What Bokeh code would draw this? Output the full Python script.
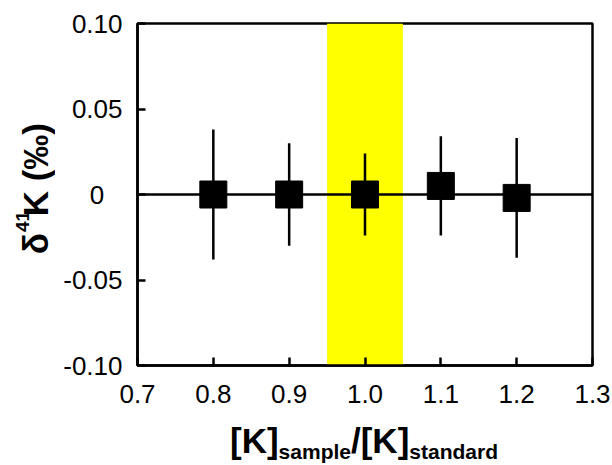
import math
from bokeh.plotting import figure
from bokeh.layouts import column, row
from bokeh.models import Range1d, FixedTicker, Span, BoxAnnotation, Label
from bokeh.embed import file_html
from bokeh.resources import INLINE

# data
x_vals = [0.8, 0.9, 1.0, 1.1, 1.2]
y_vals = [0.0, 0.0, 0.0, 0.005, -0.002]
y_err = [0.038, 0.030, 0.024, 0.029, 0.035]
band = [0.95, 1.05]
x_ticks = [0.7, 0.8, 0.9, 1.0, 1.1, 1.2, 1.3]
x_tick_labels = ["0.7", "0.8", "0.9", "1.0", "1.1", "1.2", "1.3"]
y_ticks = [-0.1, -0.05, 0, 0.05, 0.1]
y_tick_labels = ["-0.10", "-0.05", "0\u2002\u2009", "0.05", "0.10"]

FONT = "Liberation Sans"
TOTAL_W, TOTAL_H = 612, 465
YLAB_W = 55
XLAB_H = 50
MAIN_W = TOTAL_W - YLAB_W
MAIN_H = TOTAL_H - XLAB_H
DESC = 0.212  # font descent as fraction of size
ROT_SHIFT = 16  # correction along the text direction for rotated labels

p = figure(width=MAIN_W, height=MAIN_H, x_range=Range1d(0.7, 1.3), y_range=Range1d(-0.1, 0.1),
           output_backend="svg", toolbar_location=None, title=None,
           min_border_left=82, min_border_right=20, min_border_top=23, min_border_bottom=50)
p.xgrid.visible = False
p.ygrid.visible = False
p.outline_line_color = "black"
p.outline_line_width = 2.5
p.outline_line_alpha = 1
p.background_fill_color = "white"
p.border_fill_color = "white"

for ax in (p.xaxis[0], p.yaxis[0]):
    ax.axis_line_width = 2.5
    ax.axis_line_color = "black"
    ax.major_tick_line_width = 2.5
    ax.major_tick_line_color = "black"
    ax.major_tick_in = 8
    ax.major_tick_out = 0
    ax.minor_tick_line_color = None
    ax.major_label_text_font = FONT
    ax.major_label_text_font_size = "26px"
    ax.major_label_text_color = "black"

p.xaxis[0].ticker = FixedTicker(ticks=x_ticks)
p.xaxis[0].major_label_overrides = dict(zip(x_ticks, x_tick_labels))
p.xaxis[0].major_label_standoff = 19
p.yaxis[0].ticker = FixedTicker(ticks=y_ticks)
p.yaxis[0].major_label_overrides = dict(zip(y_ticks, y_tick_labels))
p.yaxis[0].major_label_standoff = 15

p.add_layout(BoxAnnotation(left=band[0], right=band[1], fill_color="#ffff00", fill_alpha=1,
                           line_color=None, level="underlay"))
p.add_layout(Span(location=0, dimension="width", line_color="black", line_width=2.5))

lo = [y - e for y, e in zip(y_vals, y_err)]
hi = [y + e for y, e in zip(y_vals, y_err)]
p.segment(x0=x_vals, y0=lo, x1=x_vals, y1=hi, line_color="black", line_width=2.5)
p.scatter(x_vals, y_vals, marker="square", size=27, fill_color="black", line_color="black")


def blank(w, h):
    f = figure(width=w, height=h, x_range=Range1d(0, w), y_range=Range1d(0, h),
               output_backend="svg", toolbar_location=None, min_border=0, title=None,
               x_axis_location=None, y_axis_location=None)
    f.grid.visible = False
    f.outline_line_color = None
    f.background_fill_color = "white"
    f.border_fill_color = "white"
    return f


def lab(f, text, x, y, size, rotated=False, bold=True):
    # x, y: baseline start point (pixels in the helper figure, y up)
    d = DESC * size
    if rotated:
        x, y, ang = x + d, y - ROT_SHIFT, math.pi / 2
    else:
        y, ang = y - d, 0
    f.add_layout(Label(x=x, y=y, text=text,
                       text_font=FONT, text_font_size=f"{size}px",
                       text_font_style="bold" if bold else "normal",
                       text_color="black", text_align="left", text_baseline="bottom",
                       angle=ang))


# y axis title: δ^41K (‰)
yfig = blank(YLAB_W, MAIN_H)
lab(yfig, "\u03b4", 47, MAIN_H - 264, 35, True)
lab(yfig, "41", 24, MAIN_H - 237, 19, True)
lab(yfig, "K (\u2030)", 47, MAIN_H - 218, 35, True)

# x axis title: [K]_sample/[K]_standard
xfig = blank(TOTAL_W, XLAB_H)
lab(xfig, "[K]", 229.5, 13, 35)
lab(xfig, "sample", 278.1, 7, 21)
lab(xfig, "/", 350.5, 13, 35)
lab(xfig, "[K]", 360.2, 13, 35)
lab(xfig, "standard", 408.8, 7, 21)

layout = column(row(yfig, p, spacing=0), xfig, spacing=0)
open("out.html", "w").write(file_html(layout, INLINE))
